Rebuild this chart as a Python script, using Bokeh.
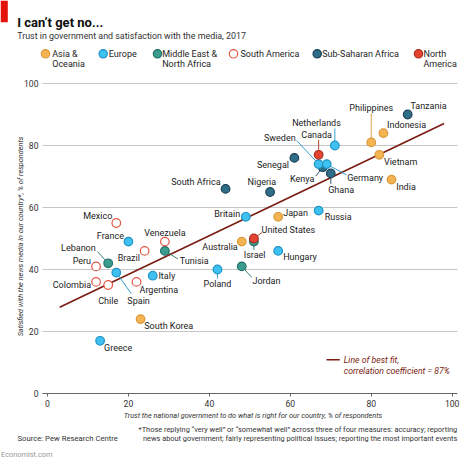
import math
from bokeh.plotting import figure
from bokeh.models import Label, BoxAnnotation, FixedTicker
from bokeh.core.properties import value
from bokeh.embed import file_html
from bokeh.resources import INLINE

# ---------------- data ----------------
countries = ["Philippines", "Indonesia", "Vietnam", "India", "Japan", "Australia", "South Korea",
             "Netherlands", "Sweden", "Germany", "Britain", "Russia", "Hungary", "Poland",
             "France", "Italy", "Spain", "Greece",
             "Israel", "Jordan", "Tunisia", "Lebanon",
             "Mexico", "Venezuela", "Brazil", "Peru", "Colombia", "Chile", "Argentina",
             "Tanzania", "Senegal", "Kenya", "Ghana", "Nigeria", "South Africa",
             "Canada", "United States"]
regions = (["Asia & Oceania"] * 7 + ["Europe"] * 11 + ["Middle East & North Africa"] * 4 +
           ["South America"] * 7 + ["Sub-Saharan Africa"] * 6 + ["North America"] * 2)
trust_gov = [80, 83, 82, 85, 57, 48, 23,
             71, 67, 69, 49, 67, 57, 42,
             20, 26, 17, 13,
             51, 48, 29, 15,
             17, 29, 24, 12, 12, 15, 22,
             89, 61, 68, 70, 55, 44,
             67, 51]
media_sat = [81, 84, 77, 69, 57, 49, 24,
             80, 74, 74, 57, 59, 46, 40,
             49, 38, 39, 17,
             49, 41, 46, 42,
             55, 49, 46, 41, 36, 35, 36,
             90, 76, 73, 71, 65, 66,
             77, 50]

legend_regions = ["Asia & Oceania", "Europe", "Middle East & North Africa",
                  "South America", "Sub-Saharan Africa", "North America"]
legend_lines = [["Asia &", "Oceania"], ["Europe"], ["Middle East &", "North Africa"],
                ["South America"], ["Sub-Saharan Africa"], ["North", "America"]]

tick_values = [0, 20, 40, 60, 80, 100]
grid_values = [20, 40, 60, 80, 100]

fit_x = [3, 98]
fit_y = [27.8, 87.1]
fit_text = ["Line of best fit,", "correlation coefficient = 87%"]

title_text = "I can\u2019t get no..."
subtitle_text = "Trust in government and satisfaction with the media, 2017"
x_title = "Trust the national government to do what is right for our country, % of respondents"
y_title = "Satisfied with the news media in our country*, % of respondents"
note_lines = ["*Those replying \u201cvery well\u201d or \u201csomewhat well\u201d across three of four measures: accuracy; reporting",
              "news about government; fairly representing political issues; reporting the most important events"]
source_text = "Source: Pew Research Centre"
brand_text = "Economist.com"

# ---------------- styles ----------------
fill_col = {"Asia & Oceania": "#F5B452", "Europe": "#3EC1F0", "Middle East & North Africa": "#3A9C8E",
            "South America": "#FFFFFF", "Sub-Saharan Africa": "#2F6E88", "North America": "#E4432F"}
line_col = {"Asia & Oceania": "#D9993C", "Europe": "#1E93C6", "Middle East & North Africa": "#226F65",
            "South America": "#E35644", "Sub-Saharan Africa": "#1C4257", "North America": "#A8301F"}
draw_order = ["Sub-Saharan Africa", "Middle East & North Africa", "Asia & Oceania",
              "South America", "Europe", "North America"]

# label layout: align, dx, dy (reference px, y down), leader end (px) or None
label_layout = {
    "Mexico": ("right", -4, -7, None), "France": ("right", -4.5, -6, None),
    "Venezuela": ("center", 0, -9, None), "Brazil": ("right", -4.7, 6.6, None),
    "Tunisia": ("left", 15, 10, (13, 8)), "Lebanon": ("right", -12.5, -15, (-10.7, -11.7)),
    "Peru": ("right", -5, -5, None), "Colombia": ("right", -5, 3, None),
    "Chile": ("center", 0, 15.6, None), "Spain": ("center", 22.3, 28, (15, 21)),
    "Italy": ("left", 5.7, 0.7, None), "Argentina": ("left", 3, 7.7, None),
    "South Korea": ("left", 3.7, 7, None), "Poland": ("center", 0, 14.4, (0, 9)),
    "Greece": ("left", 4, 6.7, None), "Britain": ("right", -5.7, -3, None),
    "Japan": ("left", 5, -4, None), "Russia": ("left", 6, 6.7, None),
    "United States": ("left", 7.7, -9, (8, -6)), "Australia": ("right", -4, 5.7, None),
    "Israel": ("center", 0.7, 13, (0, 8)), "Hungary": ("left", 5, 6, None),
    "Jordan": ("left", 10.7, 15, (10, 11)), "Tanzania": ("left", 2.7, -9, None),
    "Philippines": ("center", 0, -34.7, (0, -29)), "Indonesia": ("left", 3.6, -7.7, None),
    "Netherlands": ("right", 6, -22.7, (0, -17)), "Canada": ("center", -2, -20.3, (0, -15)),
    "Sweden": ("right", -23, -26, (-22, -23.7)), "Senegal": ("right", -5.4, 6.6, None),
    "Kenya": ("right", -8.3, 11.3, (-7, 9)), "Germany": ("left", 20.4, 14, (20, 11)),
    "Ghana": ("left", -2.6, 16.3, (0, 10.5)), "Vietnam": ("left", 4.6, 6.7, None),
    "India": ("left", 4.7, 7.4, None), "Nigeria": ("right", 6, -10, None),
    "South Africa": ("right", -5, -7.4, None),
}

FONT = value("Roboto")
W, H = 474, 462
S = W / 474.0


def F(v):
    return v * S


# reference-pixel geometry of the plotting area
X0, X100 = F(47), F(451.7)     # x = 0 and x = 100
Y0, Y100 = F(393), F(83)       # y = 0 and y = 100
GRID_L, GRID_R = 42, 457       # extent of grid lines / axis line (reference px)
ppx = (X100 - X0) / 100.0
ppy = (Y0 - Y100) / 100.0


def px2x(rx):
    return (F(rx) - X0) / ppx


def px2y(ry):
    return (Y0 - F(ry)) / ppy


def fs(v):
    return f"{F(v):.2f}px"


# the frame covers the whole canvas; axes are pinned inside it
p = figure(width=W, height=H,
           x_range=(-X0 / ppx, (W - X0) / ppx), y_range=((Y0 - H) / ppy, Y0 / ppy),
           output_backend="svg", toolbar_location=None, min_border=0,
           min_border_left=0, min_border_right=0, min_border_top=0, min_border_bottom=0)
p.outline_line_color = None
p.background_fill_color = "white"
p.border_fill_color = "white"
p.xgrid.grid_line_color = None
p.ygrid.grid_line_color = None

p.yaxis.ticker = FixedTicker(ticks=tick_values)
p.yaxis.fixed_location = px2x(GRID_L)
p.yaxis.axis_line_color = None
p.yaxis.major_tick_line_color = None
p.yaxis.major_tick_out = 0
p.yaxis.major_tick_in = 0
p.yaxis.minor_tick_line_color = None
p.yaxis.major_label_standoff = 4
p.yaxis.major_label_text_font = "Roboto"
p.yaxis.major_label_text_font_size = fs(8.6)
p.yaxis.major_label_text_color = "#333333"

p.xaxis.ticker = FixedTicker(ticks=tick_values)
p.xaxis.fixed_location = 0
p.xaxis.bounds = (px2x(GRID_L), px2x(GRID_R))
p.xaxis.axis_line_color = "#666666"
p.xaxis.axis_line_width = 1
p.xaxis.major_tick_line_color = "#666666"
p.xaxis.major_tick_out = 3
p.xaxis.major_tick_in = 0
p.xaxis.minor_tick_line_color = None
p.xaxis.major_label_standoff = 3
p.xaxis.major_label_text_font = "Roboto"
p.xaxis.major_label_text_font_size = fs(8.6)
p.xaxis.major_label_text_color = "#333333"

# horizontal grid lines
p.segment(x0=[px2x(GRID_L)] * len(grid_values), x1=[px2x(GRID_R)] * len(grid_values),
          y0=grid_values, y1=grid_values, line_color="#c6c6c6", line_width=1)

# best fit line
p.line(fit_x, fit_y, line_color="#7B1C12", line_width=F(1.6))

# leader lines
lx0, ly0, lx1, ly1, lc = [], [], [], [], []
for c, r, xv, yv in zip(countries, regions, trust_gov, media_sat):
    lead = label_layout[c][3]
    if lead is not None:
        lx0.append(xv)
        ly0.append(yv)
        lx1.append(xv + F(lead[0]) / ppx)
        ly1.append(yv - F(lead[1]) / ppy)
        lc.append(line_col[r])
p.segment(x0=lx0, y0=ly0, x1=lx1, y1=ly1, line_color=lc, line_width=0.9)

# points
for reg in draw_order:
    xs = [xv for xv, r in zip(trust_gov, regions) if r == reg]
    ys = [yv for yv, r in zip(media_sat, regions) if r == reg]
    p.scatter(xs, ys, size=F(8.6), fill_color=fill_col[reg], line_color=line_col[reg],
              line_width=1.2)

# point labels
for align in ["left", "center", "right"]:
    tx, ty, tt, ox, oy = [], [], [], [], []
    for c, xv, yv in zip(countries, trust_gov, media_sat):
        a, dx, dy, _ = label_layout[c]
        if a == align:
            tx.append(xv)
            ty.append(yv)
            tt.append(c)
            ox.append(F(dx))
            oy.append(F(dy))
    p.text(x=tx, y=ty, text=tt, x_offset=ox, y_offset=oy, text_align=align,
           text_baseline="middle", text_font=FONT, text_font_size=fs(9),
           text_color="#222222")


def lab(rx, ry, text, size, align="left", baseline="middle", style="normal",
        color="#333333", angle=0.0):
    p.add_layout(Label(x=F(rx), y=H - F(ry), x_units="screen", y_units="screen",
                       text=text, text_align=align, text_baseline=baseline,
                       text_font="Roboto", text_font_size=fs(size), text_font_style=style,
                       text_color=color, angle=angle))


# red corner bar
p.add_layout(BoxAnnotation(left=0, right=F(7.3), top=H, bottom=H - F(21.7),
                           left_units="screen", right_units="screen",
                           top_units="screen", bottom_units="screen",
                           fill_color="#E3120B", fill_alpha=1, line_color=None))

lab(16.7, 21.7, title_text, 13, baseline="alphabetic", style="bold", color="#0d0d0d")
lab(16.7, 35.7, subtitle_text, 8.9, baseline="alphabetic", color="#333333")

# legend
legend_circle_x = [45, 102.7, 157, 233, 316.7, 418]
legend_text_x = [51.7, 108.3, 161.7, 240, 321.7, 423]
leg_y1, leg_y2 = 53.3, 63.3
for reg, cx, tx0, lines in zip(legend_regions, legend_circle_x, legend_text_x, legend_lines):
    p.scatter([px2x(cx)], [px2y(leg_y1)], size=F(8.4), fill_color=fill_col[reg],
              line_color=line_col[reg], line_width=1.2)
    for i, t in enumerate(lines):
        lab(tx0, leg_y1 + i * (leg_y2 - leg_y1), t, 9, color="#262626")

# axis titles
lab(252.5, 415, x_title, 7.3, align="center", style="italic", color="#333333")
lab(20, 236, y_title, 7.3, align="center", style="italic", color="#333333",
    angle=math.pi / 2)

# fit legend
p.line([px2x(326), px2x(339.3)], [px2y(359.3), px2y(359.3)], line_color="#7B1C12",
       line_width=F(1.6))
lab(343.3, 359.3, fit_text[0], 8.7, style="italic", color="#7B1C12")
lab(343.3, 370.7, fit_text[1], 8.7, style="italic", color="#7B1C12")

# notes
lab(456.7, 429.3, note_lines[0], 7.4, align="right", color="#333333")
lab(456.7, 438.3, note_lines[1], 7.4, align="right", color="#333333")
lab(17, 438.3, source_text, 7.7, color="#333333")
lab(0.5, 454, brand_text, 7.4, color="#999999")

open("out.html", "w").write(file_html(p, INLINE))
